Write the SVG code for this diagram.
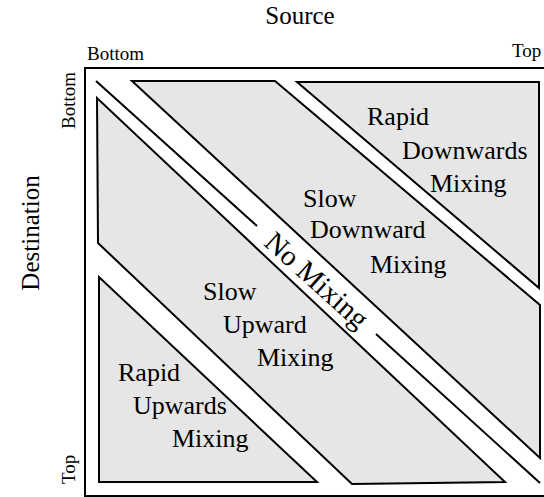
<svg xmlns="http://www.w3.org/2000/svg" width="544" height="497" viewBox="0 0 544 497">
<style>
.t{font-family:"Liberation Serif","Times New Roman",serif;fill:#000}
.big{font-size:25px}
.ax{font-size:19px}
.lab{font-size:26px}
.nm{font-size:29px}
.reg{fill:#e6e6e6;stroke:#000;stroke-width:2;stroke-linejoin:miter}
.ln{fill:none;stroke:#000;stroke-width:2}
</style>
<rect width="544" height="497" fill="#fff"/>
<g id="axes">
<text class="t big" x="300" y="24" text-anchor="middle">Source</text>
<text class="t ax" x="87" y="60">Bottom</text>
<text class="t ax" x="512" y="57">Top</text>
<text class="t big" transform="translate(39,233) rotate(-90)" text-anchor="middle">Destination</text>
<text class="t ax" transform="translate(75,129) rotate(-90)">Bottom</text>
<text class="t ax" transform="translate(75,484) rotate(-90)">Top</text>
</g>
<g id="frame"><rect x="85" y="68" width="466" height="428" class="ln"/></g>
<g id="rapid-downwards">
<polygon class="reg" points="297,82 539,82 539,288"/>
<text class="t lab" x="367" y="125">Rapid</text>
<text class="t lab" x="402" y="159">Downwards</text>
<text class="t lab" x="430" y="192">Mixing</text>
</g>
<g id="slow-downward">
<polygon class="reg" points="132,81 275,81 540,305 540,458"/>
<text class="t lab" x="303" y="207">Slow</text>
<text class="t lab" x="310" y="238">Downward</text>
<text class="t lab" x="370" y="273">Mixing</text>
</g>
<g id="slow-upward">
<polygon class="reg" points="97,98 98,243 352,484 505,482"/>
<text class="t lab" x="203" y="300">Slow</text>
<text class="t lab" x="223" y="333">Upward</text>
<text class="t lab" x="257" y="366">Mixing</text>
</g>
<g id="rapid-upwards">
<polygon class="reg" points="99,277 99,482 317,482"/>
<text class="t lab" x="118" y="381">Rapid</text>
<text class="t lab" x="133" y="414">Upwards</text>
<text class="t lab" x="172" y="447">Mixing</text>
</g>
<g id="connectors">
<path class="ln" d="M96,81 L257,226 M376,334 L540,483"/>
</g>
<g id="no-mixing">
<text class="t nm" transform="translate(317,280) rotate(42)" text-anchor="middle" dominant-baseline="central">No Mixing</text>
</g>
</svg>
